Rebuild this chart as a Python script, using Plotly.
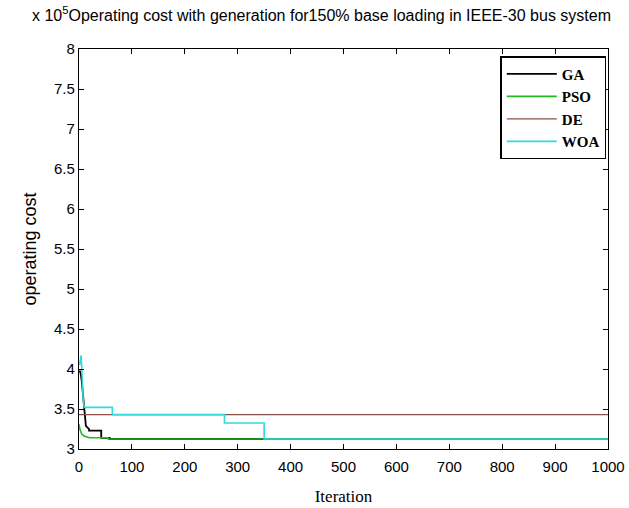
import plotly.graph_objects as go

# values in units of 1e5
ga_x = [1, 3, 5, 8, 10, 13, 13, 19, 19, 42, 42, 58, 58, 1000]
ga_y = [3.98, 3.95, 3.86, 3.65, 3.54, 3.29, 3.29, 3.25, 3.23, 3.23, 3.14, 3.14, 3.125, 3.125]

pso_x = [0, 2, 5, 10, 20, 55, 55, 1000]
pso_y = [3.31, 3.24, 3.19, 3.16, 3.14, 3.14, 3.125, 3.125]

de_x = [0, 1000]
de_y = [3.43, 3.43]

woa_x = [1, 4, 6, 8, 10, 63, 63, 275, 275, 350, 350, 1000]
woa_y = [4.05, 4.17, 3.9, 3.6, 3.52, 3.52, 3.43, 3.43, 3.325, 3.325, 3.125, 3.125]

x_ticks = [0, 100, 200, 300, 400, 500, 600, 700, 800, 900, 1000]
y_ticks = [3, 3.5, 4, 4.5, 5, 5.5, 6, 6.5, 7, 7.5, 8]

fig = go.Figure()
fig.add_trace(go.Scatter(x=ga_x, y=ga_y, name="GA", mode="lines",
                         line=dict(color="#000000", width=1.8)))
fig.add_trace(go.Scatter(x=pso_x, y=pso_y, name="PSO", mode="lines",
                         line=dict(color="#22bb22", width=1.6)))
fig.add_trace(go.Scatter(x=de_x, y=de_y, name="DE", mode="lines",
                         line=dict(color="#8a5048", width=1.4)))
fig.add_trace(go.Scatter(x=woa_x, y=woa_y, name="WOA", mode="lines",
                         line=dict(color="#33dada", width=1.6)))

W, H = 629, 508
L, R, T, B = 79, 21, 49, 59
pw = W - L - R
ph = H - T - B

axis_common = dict(showgrid=False, zeroline=False, showline=True, linecolor="black",
                   linewidth=1.2, mirror="ticks", ticks="inside", ticklen=5,
                   tickcolor="black", automargin=False,
                   tickfont=dict(family="Liberation Sans", size=15, color="black"))

fig.update_layout(
    width=W, height=H,
    margin=dict(l=L, r=R, t=T, b=B),
    plot_bgcolor="white", paper_bgcolor="white",
    showlegend=True,
    legend=dict(x=0.997, y=0.982, xanchor="right", yanchor="top",
                bordercolor="black", borderwidth=1.4, bgcolor="white",
                font=dict(family="Liberation Serif", size=15, color="black", weight="bold"),
                tracegroupgap=0, itemwidth=50),
    xaxis=dict(range=[0, 1000], tickvals=x_ticks, ticktext=[str(v) for v in x_ticks],
               ticklabelstandoff=4,
               title=dict(text="Iteration", standoff=16,
                          font=dict(family="Liberation Serif", size=17, color="black")),
               **axis_common),
    yaxis=dict(range=[3, 8], tickvals=y_ticks, ticktext=[f"{v:g}" for v in y_ticks],
               title=dict(text="operating cost", standoff=12,
                          font=dict(family="Liberation Sans", size=18, color="black")),
               **axis_common),
    annotations=[dict(
        text="x 10<sup>5</sup>Operating cost with generation for150% base loading in IEEE-30 bus system",
        xref="paper", yref="paper", x=(30 - L) / pw, y=1 + (49 - 14) / ph,
        xanchor="left", yanchor="middle", showarrow=False,
        font=dict(family="Liberation Sans", size=16, color="black"))],
)

fig.write_html("out.html", config={"displayModeBar": False},
               post_script="document.body.style.margin='0px';document.body.style.overflow='hidden';")
